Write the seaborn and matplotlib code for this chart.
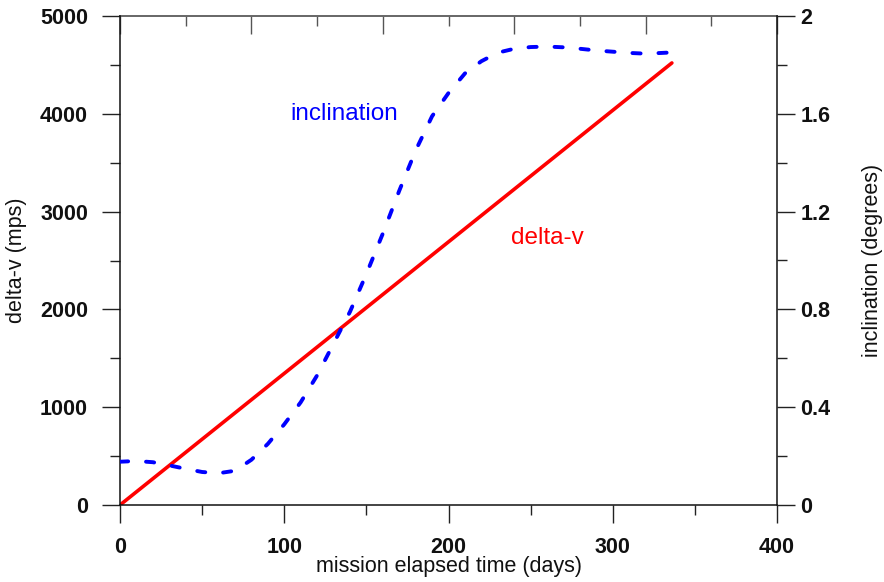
import matplotlib
matplotlib.use("Agg")
import matplotlib.pyplot as plt
import seaborn as sns
import numpy as np
from matplotlib.ticker import MultipleLocator

# ---- data ----
dv_days = [0, 336]
delta_v = [0, 4520]

incl_days = [0, 10, 20, 30, 40, 50, 60, 70, 80, 90, 100, 110, 120, 130, 140,
             150, 160, 170, 180, 190, 200, 210, 220, 230, 240, 250, 260, 270,
             280, 290, 300, 310, 320, 330, 336]
inclination = [0.177, 0.180, 0.175, 0.162, 0.148, 0.135, 0.130, 0.140, 0.185,
               0.250, 0.330, 0.420, 0.530, 0.660, 0.790, 0.945, 1.110, 1.285,
               1.450, 1.590, 1.685, 1.765, 1.815, 1.850, 1.866, 1.873, 1.875,
               1.872, 1.866, 1.859, 1.854, 1.849, 1.846, 1.849, 1.851]

x_ticks = [0, 100, 200, 300, 400]
left_ticks = [0, 1000, 2000, 3000, 4000, 5000]
right_ticks = [0, 0.4, 0.8, 1.2, 1.6, 2.0]
right_labels = ["0", "0.4", "0.8", "1.2", "1.6", "2"]
top_ticks = [0, 80, 160, 240, 320, 400]

sns.set_style("white")
plt.rcParams['font.family'] = ['Liberation Sans', 'DejaVu Sans']
plt.rcParams['text.color'] = '#111111'
plt.rcParams['axes.labelcolor'] = '#111111'
plt.rcParams['xtick.color'] = '#111111'
plt.rcParams['ytick.color'] = '#111111'

fig = plt.figure(figsize=(8.84, 5.82), dpi=100)
ax = fig.add_axes([120 / 884, 1 - 505 / 582, (777 - 120) / 884, (505 - 16) / 582])
ax2 = ax.twinx()

sns.lineplot(x=dv_days, y=delta_v, ax=ax, color="#ff0000", linewidth=2.6)
sns.lineplot(x=incl_days, y=inclination, ax=ax2, color="#0000ff", linewidth=2.8)
ln = ax2.lines[-1]
ln.set_linestyle((0, (2.1, 4.6)))
ln.set_dash_capstyle("round")
ax.lines[-1].set_solid_capstyle("round")

ax.set_xlim(0, 400)
ax.set_ylim(0, 5000)
ax2.set_ylim(0, 2)

tick_font = dict(fontsize=15.5, fontweight="bold", color="#111111")
lab_font = 15.5

ax.set_xticks(x_ticks)
ax.set_xticklabels([str(t) for t in x_ticks], **tick_font)
ax.xaxis.set_minor_locator(MultipleLocator(50))
ax.set_yticks(left_ticks)
ax.set_yticklabels([str(t) for t in left_ticks], **tick_font)
ax.yaxis.set_minor_locator(MultipleLocator(500))
ax2.set_yticks(right_ticks)
ax2.set_yticklabels(right_labels, **tick_font)
ax2.yaxis.set_minor_locator(MultipleLocator(0.2))

ax.tick_params(axis="x", which="major", direction="out", length=13, width=1,
               pad=10, color="#222222", bottom=True, top=False)
ax.tick_params(axis="x", which="minor", direction="out", length=7, width=1,
               color="#222222", bottom=True, top=False)
ax.tick_params(axis="y", which="major", direction="out", length=13, width=1,
               pad=10, color="#222222", left=True)
ax.tick_params(axis="y", which="minor", direction="out", length=7, width=1,
               color="#222222", left=True)
ax2.tick_params(axis="y", which="major", direction="out", length=13, width=1,
                pad=4, color="#222222", right=True)
ax2.tick_params(axis="y", which="minor", direction="out", length=7, width=1,
                color="#222222", right=True)

top = ax.secondary_xaxis("top")
top.set_xticks(top_ticks)
top.set_xticklabels([])
top.xaxis.set_minor_locator(MultipleLocator(40))
top.tick_params(axis="x", which="major", direction="in", length=13, width=1, color="#555555")
top.tick_params(axis="x", which="minor", direction="in", length=7, width=1, color="#555555")
top.spines["top"].set_color("#666666")
top.spines["top"].set_linewidth(1.4)

for s in ["left", "bottom"]:
    ax.spines[s].set_color("#111111")
    ax.spines[s].set_linewidth(1.1)
ax.spines["top"].set_visible(False)
ax.spines["right"].set_visible(False)
for s in ["left", "top", "bottom"]:
    ax2.spines[s].set_visible(False)
ax2.spines["right"].set_color("#111111")
ax2.spines["right"].set_linewidth(1.1)

ax.set_xlabel("mission elapsed time (days)", fontsize=lab_font)
ax.set_ylabel("delta-v (mps)", fontsize=lab_font)
ax2.set_ylabel("inclination (degrees)", fontsize=lab_font)
ax.yaxis.set_label_coords(-(120 - 27) / 657, 0.5)
ax2.yaxis.set_label_coords(1 + (862 - 777) / 657, 0.5)
ax.xaxis.set_label_coords(0.5, -(556 - 505) / 489)

ax.text(136.5, 4000, "inclination", color="#0000ff", fontsize=17.5,
        ha="center", va="center")
ax.text(260.5, 2730, "delta-v", color="#ff0000", fontsize=17.5,
        ha="center", va="center")

ax.grid(False)
ax2.grid(False)
fig.savefig("out.png", dpi=100)
